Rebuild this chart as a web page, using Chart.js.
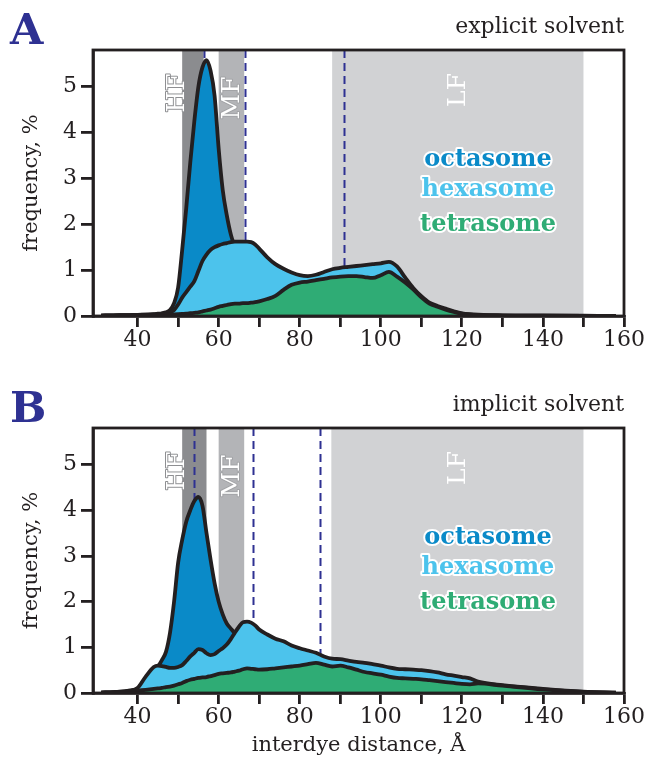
<!DOCTYPE html>
<html>
<head>
<meta charset="utf-8">
<title>Interdye distance distributions</title>
<script src="https://cdn.jsdelivr.net/npm/chart.js@4.4.0/dist/chart.umd.min.js"></script>
<style>
  html, body { margin: 0; padding: 0; background: #ffffff; }
  #wrap { position: relative; width: 648px; height: 772px; overflow: hidden; }
  canvas { position: absolute; left: 0; }
  #panelA { top: 0; }
  #panelB { top: 386px; }
</style>
</head>
<body>
<div id="wrap">
  <canvas id="panelA" width="648" height="386" style="width:648px;height:386px"></canvas>
  <canvas id="panelB" width="648" height="386" style="width:648px;height:386px"></canvas>
</div>
<script>
// Interdye distance grid (Å) shared by every distribution
const distance = [31, 34, 38, 40, 42, 44,
  45, 46, 47, 48, 49, 50, 51, 52, 53, 54, 55, 56, 57, 58, 59, 60, 61, 62, 63, 64, 65, 66, 67, 68, 69, 70,
  72, 74, 76, 78, 80, 82, 84, 86, 88, 90, 92, 94, 96, 98, 100, 102, 104, 106, 108, 110, 112, 114, 116, 118, 120, 122, 124,
  130, 140, 150, 158];

// Explicit solvent, frequency in %
const octasomeExplicit = [0.01, 0.015, 0.02, 0.025, 0.03, 0.04,
  0.05, 0.06, 0.08, 0.13, 0.28, 0.62, 1.44, 2.35, 3.35, 4.25, 5.0, 5.42, 5.58, 5.35, 4.8, 3.65, 2.75, 2.2, 1.78, 1.5, 1.22, 0.98, 0.82, 0.7, 0.6, 0.52,
  0.42, 0.35, 0.3, 0.26, 0.23, 0.2, 0.18, 0.16, 0.15, 0.14, 0.13, 0.12, 0.11, 0.1, 0.1, 0.09, 0.08, 0.07, 0.06, 0.05, 0.04, 0.04, 0.03, 0.03, 0.02, 0.02, 0.015,
  0.01, 0.005, 0.003, 0.002];
const hexasomeExplicit = [0.01, 0.015, 0.02, 0.025, 0.03, 0.035,
  0.04, 0.05, 0.06, 0.08, 0.13, 0.25, 0.4, 0.52, 0.64, 0.76, 0.98, 1.2, 1.34, 1.44, 1.5, 1.54, 1.57, 1.59, 1.61, 1.62, 1.62, 1.62, 1.62, 1.61, 1.56, 1.47,
  1.28, 1.13, 1.03, 0.95, 0.89, 0.87, 0.9, 0.96, 1.02, 1.05, 1.07, 1.09, 1.11, 1.13, 1.15, 1.18, 1.08, 0.84, 0.61, 0.43, 0.29, 0.22, 0.16, 0.1, 0.06, 0.04, 0.03,
  0.015, 0.008, 0.005, 0.003];
const tetrasomeExplicit = [0.008, 0.01, 0.012, 0.015, 0.018, 0.02,
  0.022, 0.025, 0.028, 0.03, 0.035, 0.04, 0.045, 0.05, 0.06, 0.07, 0.08, 0.1, 0.12, 0.14, 0.17, 0.2, 0.22, 0.24, 0.26, 0.27, 0.27, 0.28, 0.28, 0.29, 0.3, 0.32,
  0.37, 0.44, 0.57, 0.68, 0.73, 0.75, 0.78, 0.81, 0.84, 0.86, 0.87, 0.87, 0.85, 0.83, 0.89, 0.96, 0.86, 0.73, 0.58, 0.41, 0.27, 0.2, 0.14, 0.09, 0.05, 0.03, 0.02,
  0.01, 0.005, 0.003, 0.002];

// Implicit solvent, frequency in %
const octasomeImplicit = [0.01, 0.02, 0.05, 0.1, 0.33, 0.54,
  0.58, 0.72, 0.9, 1.32, 2.0, 2.85, 3.35, 3.75, 4.0, 4.2, 4.29, 4.1, 3.5, 2.92, 2.4, 2.0, 1.72, 1.52, 1.41, 1.3, 1.1, 0.92, 0.78, 0.68, 0.6, 0.54,
  0.46, 0.4, 0.35, 0.31, 0.28, 0.25, 0.22, 0.2, 0.18, 0.16, 0.15, 0.14, 0.13, 0.12, 0.11, 0.1, 0.09, 0.08, 0.08, 0.07, 0.06, 0.06, 0.05, 0.05, 0.04, 0.04, 0.03,
  0.02, 0.01, 0.005, 0.003];
const hexasomeImplicit = [0.01, 0.02, 0.05, 0.11, 0.36, 0.57,
  0.6, 0.59, 0.57, 0.55, 0.55, 0.57, 0.61, 0.7, 0.8, 0.88, 0.96, 0.94, 0.87, 0.83, 0.85, 0.92, 0.98, 1.06, 1.18, 1.32, 1.45, 1.55, 1.56, 1.54, 1.48, 1.39,
  1.28, 1.19, 1.13, 1.04, 0.98, 0.93, 0.88, 0.8, 0.75, 0.74, 0.71, 0.68, 0.66, 0.63, 0.6, 0.56, 0.53, 0.52, 0.51, 0.5, 0.48, 0.45, 0.41, 0.38, 0.35, 0.32, 0.25,
  0.17, 0.09, 0.03, 0.01];
const tetrasomeImplicit = [0.01, 0.015, 0.03, 0.05, 0.07, 0.09,
  0.1, 0.11, 0.13, 0.14, 0.16, 0.19, 0.22, 0.26, 0.29, 0.31, 0.33, 0.34, 0.35, 0.37, 0.39, 0.42, 0.43, 0.44, 0.45, 0.47, 0.49, 0.52, 0.54, 0.53, 0.52, 0.51,
  0.52, 0.54, 0.56, 0.58, 0.6, 0.63, 0.66, 0.62, 0.58, 0.6, 0.56, 0.51, 0.46, 0.43, 0.4, 0.36, 0.33, 0.32, 0.31, 0.3, 0.28, 0.26, 0.24, 0.22, 0.2, 0.19, 0.21,
  0.16, 0.08, 0.025, 0.008];

// Axis ticks
const xTicks = [40, 50, 60, 70, 80, 90, 100, 110, 120, 130, 140, 150, 160];
const xLabelStep = 20;
const yTicks = [0, 1, 2, 3, 4, 5];

// Frequency ranges (Å) and mean-distance markers
const bandsExplicit = [['HF', 51, 56.3], ['MF', 60, 66.3], ['LF', 88, 150]];
const bandsImplicit = [['HF', 51, 57], ['MF', 60, 66.3], ['LF', 87.8, 150]];
const meansExplicit = [56.5, 66.6, 91];
const meansImplicit = [54, 68.5, 85];
const bandLabelPos = { HF: 49.8, MF: 63.3, LF: 119.2 };

const seriesNames = ['octasome', 'hexasome', 'tetrasome'];

const SERIF = "'DejaVu Serif', 'Liberation Serif', serif";
const INK = '#231f20';
const NAVY = '#2e3192';
const COLORS = { octasome: '#0a8ac8', hexasome: '#4cc3ec', tetrasome: '#2fac75' };
const BAND_FILL = { HF: '#8b8c8f', MF: '#b3b4b7', LF: '#d1d2d4' };

function drawPanel(canvasId, p) {
  const points = ys => distance.map((x, i) => ({ x: x, y: ys[i] }));
  const area = (name, ys) => ({
    label: name,
    data: points(ys),
    backgroundColor: COLORS[name],
    borderColor: INK,
    borderWidth: 3.8,
    borderJoinStyle: 'round',
    fill: 'origin',
    pointRadius: 0,
    cubicInterpolationMode: 'monotone'
  });

  const decor = {
    id: 'decor',
    beforeDatasetsDraw(chart) {
      const { ctx, chartArea: a, scales: { x } } = chart;
      ctx.save();
      p.bands.forEach(([name, lo, hi]) => {
        ctx.fillStyle = BAND_FILL[name];
        const x0 = x.getPixelForValue(lo), x1 = x.getPixelForValue(hi);
        ctx.fillRect(x0, a.top, x1 - x0, a.bottom - a.top);
      });
      ctx.strokeStyle = NAVY;
      ctx.lineWidth = 2;
      ctx.setLineDash([8, 5]);
      p.means.forEach(v => {
        const px = Math.round(x.getPixelForValue(v)) + 0.5;
        ctx.beginPath();
        ctx.moveTo(px, a.top);
        ctx.lineTo(px, a.bottom);
        ctx.stroke();
      });
      ctx.restore();
    },
    afterDatasetsDraw(chart) {
      const { ctx, chartArea: a, scales: { x } } = chart;
      ctx.save();
      // frame
      ctx.strokeStyle = INK;
      ctx.lineWidth = 2.8;
      ctx.strokeRect(a.left, a.top, a.right - a.left, a.bottom - a.top);

      // range labels, written upward
      const offsets = { HF: 43, MF: 48, LF: 40 };
      ctx.font = '25px ' + SERIF;
      ctx.textAlign = 'center';
      ctx.textBaseline = 'middle';
      ctx.lineJoin = 'round';
      p.bands.forEach(([name]) => {
        ctx.save();
        ctx.translate(x.getPixelForValue(bandLabelPos[name]), a.top + offsets[name]);
        ctx.rotate(-Math.PI / 2);
        if (name !== 'LF') {
          ctx.strokeStyle = name === 'HF' ? '#8e8f92' : '#a2a3a6';
          ctx.lineWidth = 2;
          ctx.strokeText(name, 0, 0);
        }
        ctx.fillStyle = '#ffffff';
        ctx.fillText(name, 0, 0);
        ctx.restore();
      });

      // series names
      ctx.font = 'bold 24px ' + SERIF;
      const cx = 488;
      [110, 140, 175].forEach((dy, i) => {
        const name = seriesNames[i];
        ctx.strokeStyle = '#ffffff';
        ctx.lineWidth = 4;
        ctx.strokeText(name, cx, a.top + dy);
        ctx.fillStyle = COLORS[name];
        ctx.fillText(name, cx, a.top + dy);
      });

      // panel letter and subtitle
      ctx.textBaseline = 'alphabetic';
      ctx.textAlign = 'left';
      ctx.font = 'bold 43px ' + SERIF;
      ctx.fillStyle = NAVY;
      ctx.fillText(p.letter, 10, a.top - 6);
      ctx.textAlign = 'right';
      ctx.font = '22px ' + SERIF;
      ctx.fillStyle = INK;
      ctx.fillText(p.subtitle, a.right, a.top - 17);
      ctx.restore();
    }
  };

  const tickFont = { family: SERIF, size: 22 };

  new Chart(document.getElementById(canvasId), {
    type: 'line',
    data: {
      datasets: [
        area('tetrasome', p.tetra),
        area('hexasome', p.hexa),
        area('octasome', p.octa)
      ]
    },
    options: {
      responsive: false,
      animation: false,
      devicePixelRatio: 1,
      layout: { padding: { top: p.top, right: 24, left: 0, bottom: 0 } },
      plugins: { legend: { display: false }, tooltip: { enabled: false } },
      scales: {
        x: {
          type: 'linear',
          min: 29,
          max: 160,
          afterFit: s => { s.height = p.xHeight; },
          afterBuildTicks: s => { s.ticks = xTicks.map(v => ({ value: v })); },
          ticks: {
            autoSkip: false,
            maxRotation: 0,
            padding: 0,
            color: INK,
            font: tickFont,
            callback: v => (v % xLabelStep === 0 ? String(v) : '')
          },
          grid: { drawOnChartArea: false, drawTicks: true, tickLength: 11, color: INK, lineWidth: 2.8 },
          border: { display: true, color: INK, width: 2.8 },
          title: {
            display: !!p.xTitle,
            text: p.xTitle || '',
            color: INK,
            font: { family: SERIF, size: 21 },
            padding: { top: 0, bottom: 14 }
          }
        },
        y: {
          type: 'linear',
          min: 0,
          max: 5.8,
          afterFit: s => { s.width = 93; },
          afterBuildTicks: s => { s.ticks = yTicks.map(v => ({ value: v })); },
          ticks: { padding: 4, color: INK, font: tickFont },
          grid: { drawOnChartArea: false, drawTicks: true, tickLength: 12, color: INK, lineWidth: 2.8 },
          border: { display: true, color: INK, width: 2.8 },
          title: {
            display: true,
            text: 'frequency, %',
            color: INK,
            font: { family: SERIF, size: 21 },
            padding: { top: 19, bottom: 0 }
          }
        }
      }
    },
    plugins: [decor]
  });
}

drawPanel('panelA', {
  letter: 'A', subtitle: 'explicit solvent', top: 50, xHeight: 70, xTitle: '',
  octa: octasomeExplicit, hexa: hexasomeExplicit, tetra: tetrasomeExplicit,
  bands: bandsExplicit, means: meansExplicit
});
drawPanel('panelB', {
  letter: 'B', subtitle: 'implicit solvent', top: 42, xHeight: 79, xTitle: 'interdye distance, Å',
  octa: octasomeImplicit, hexa: hexasomeImplicit, tetra: tetrasomeImplicit,
  bands: bandsImplicit, means: meansImplicit
});
</script>
</body>
</html>
